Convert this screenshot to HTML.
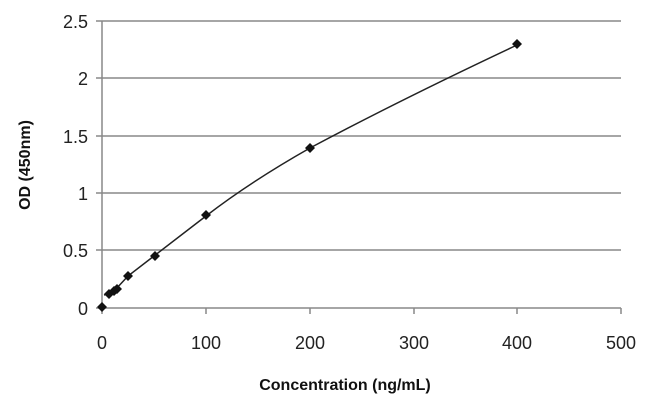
<!DOCTYPE html>
<html><head><style>body{margin:0;background:#fff}svg{display:block}</style></head><body>
<svg width="650" height="408" xmlns="http://www.w3.org/2000/svg" font-family="Liberation Sans, Arial, sans-serif">
<rect width="650" height="408" fill="#fff"/>
<g stroke="#888" stroke-width="1.5">
<line x1="96" y1="21" x2="621" y2="21"/>
<line x1="96" y1="78" x2="621" y2="78"/>
<line x1="96" y1="136" x2="621" y2="136"/>
<line x1="96" y1="193" x2="621" y2="193"/>
<line x1="96" y1="250" x2="621" y2="250"/>
<line x1="96" y1="308" x2="621" y2="308"/>
<line x1="102" y1="21" x2="102" y2="314"/>
<line x1="206" y1="308" x2="206" y2="314"/>
<line x1="310" y1="308" x2="310" y2="314"/>
<line x1="414" y1="308" x2="414" y2="314"/>
<line x1="517" y1="308" x2="517" y2="314"/>
<line x1="621" y1="308" x2="621" y2="314"/>
</g>
<g font-size="18" fill="#222" text-anchor="end">
<text x="88" y="28">2.5</text><text x="88" y="85">2</text><text x="88" y="143">1.5</text>
<text x="88" y="200">1</text><text x="88" y="257">0.5</text><text x="88" y="315">0</text>
</g>
<g font-size="18" fill="#222" text-anchor="middle">
<text x="102" y="349">0</text><text x="206" y="349">100</text><text x="310" y="349">200</text>
<text x="414" y="349">300</text><text x="517" y="349">400</text><text x="621" y="349">500</text>
</g>
<text x="345" y="390" font-size="16" font-weight="bold" text-anchor="middle" fill="#111">Concentration (ng/mL)</text>
<text transform="translate(30,165) rotate(-90)" font-size="16" font-weight="bold" text-anchor="middle" fill="#111">OD (450nm)</text>
<path d="M104,295 L108,294 L115,290 L128,276 L154,256 L206,216 Q250,182 310,148 Q400,100 517,45" fill="none" stroke="#222" stroke-width="1.5"/>
<g fill="#111">
<path d="M102,302 l5,5 -5,5 -5,-5z"/>
<path d="M109,289 l5,5 -5,5 -5,-5z"/>
<path d="M114,286 l5,5 -5,5 -5,-5z"/>
<path d="M117,284 l5,5 -5,5 -5,-5z"/>
<path d="M128,271 l5,5 -5,5 -5,-5z"/>
<path d="M155,251 l5,5 -5,5 -5,-5z"/>
<path d="M206,210 l5,5 -5,5 -5,-5z"/>
<path d="M310,143 l5,5 -5,5 -5,-5z"/>
<path d="M517,39 l5,5 -5,5 -5,-5z"/>
</g>
</svg>
</body></html>
